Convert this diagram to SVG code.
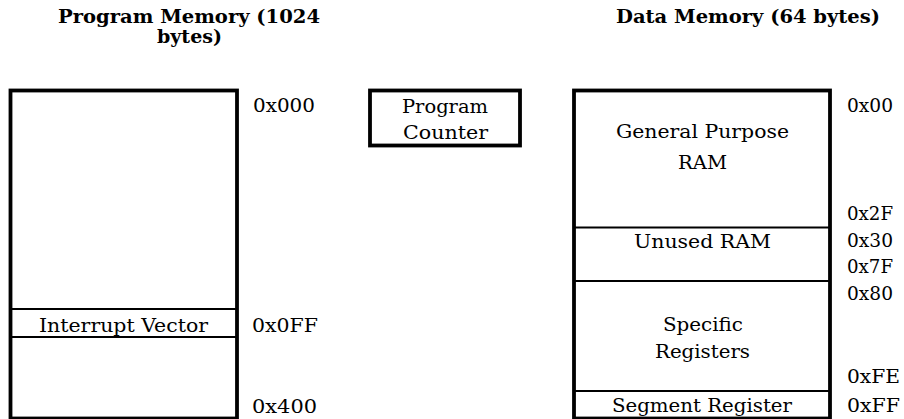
<svg xmlns="http://www.w3.org/2000/svg" width="904" height="419" viewBox="0 0 904 419">
<style>
.t{font-family:"DejaVu Serif","Liberation Serif",serif;font-size:18px;fill:#000}
.b{font-family:"DejaVu Serif","Liberation Serif",serif;font-weight:bold;font-size:18px}
.c{text-anchor:middle}
.box{fill:#fff;stroke:#000;stroke-width:3.8}
.div{stroke:#000;stroke-width:2;fill:none}
</style>
<rect width="904" height="419" fill="#fff"/>
<g id="titles">
<text class="b c" x="189" y="23" textLength="262" lengthAdjust="spacingAndGlyphs">Program Memory (1024</text>
<text class="b c" x="189.5" y="43" textLength="65" lengthAdjust="spacingAndGlyphs">bytes)</text>
<text class="b c" x="748" y="23" textLength="264" lengthAdjust="spacingAndGlyphs">Data Memory (64 bytes)</text>
</g>
<g id="program-memory">
<rect class="box" x="10.5" y="90.5" width="226.5" height="328"/>
<line class="div" x1="10.5" y1="309" x2="237" y2="309"/>
<line class="div" x1="10.5" y1="337" x2="237" y2="337"/>
<text class="t c" x="123.5" y="332" textLength="169" lengthAdjust="spacingAndGlyphs">Interrupt Vector</text>
<text class="t" x="253" y="112" textLength="62" lengthAdjust="spacingAndGlyphs">0x000</text>
<text class="t" x="252" y="332" textLength="66" lengthAdjust="spacingAndGlyphs">0x0FF</text>
<text class="t" x="252" y="413" textLength="65" lengthAdjust="spacingAndGlyphs">0x400</text>
</g>
<g id="program-counter">
<rect class="box" x="370" y="90.5" width="150" height="55"/>
<text class="t c" x="445" y="113" textLength="86" lengthAdjust="spacingAndGlyphs">Program</text>
<text class="t c" x="445.5" y="139" textLength="85" lengthAdjust="spacingAndGlyphs">Counter</text>
</g>
<g id="data-memory">
<rect class="box" x="574" y="90.5" width="256" height="328"/>
<line class="div" x1="574" y1="227.5" x2="830" y2="227.5"/>
<line class="div" x1="574" y1="281" x2="830" y2="281"/>
<line class="div" x1="574" y1="391" x2="830" y2="391"/>
<text class="t c" x="702.5" y="138" textLength="173" lengthAdjust="spacingAndGlyphs">General Purpose</text>
<text class="t c" x="702.5" y="169" textLength="49" lengthAdjust="spacingAndGlyphs">RAM</text>
<text class="t c" x="702.5" y="248" textLength="137" lengthAdjust="spacingAndGlyphs">Unused RAM</text>
<text class="t c" x="703" y="331" textLength="80" lengthAdjust="spacingAndGlyphs">Specific</text>
<text class="t c" x="702.5" y="358" textLength="95" lengthAdjust="spacingAndGlyphs">Registers</text>
<text class="t c" x="702" y="412" textLength="180" lengthAdjust="spacingAndGlyphs">Segment Register</text>
<text class="t" x="847" y="112" textLength="46" lengthAdjust="spacingAndGlyphs">0x00</text>
<text class="t" x="847" y="220" textLength="46" lengthAdjust="spacingAndGlyphs">0x2F</text>
<text class="t" x="847" y="247" textLength="46" lengthAdjust="spacingAndGlyphs">0x30</text>
<text class="t" x="847" y="273" textLength="46" lengthAdjust="spacingAndGlyphs">0x7F</text>
<text class="t" x="847" y="300" textLength="46" lengthAdjust="spacingAndGlyphs">0x80</text>
<text class="t" x="847" y="383" textLength="53" lengthAdjust="spacingAndGlyphs">0xFE</text>
<text class="t" x="847" y="412" textLength="53" lengthAdjust="spacingAndGlyphs">0xFF</text>
</g>
<g id="connectors"></g>
</svg>
